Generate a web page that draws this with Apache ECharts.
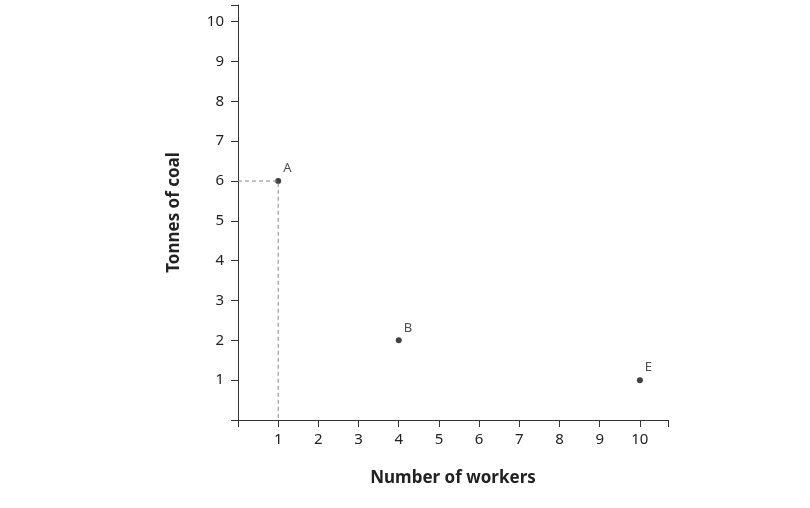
<!DOCTYPE html>
<html><head><meta charset="utf-8">
<script src="https://cdn.jsdelivr.net/npm/echarts@6/dist/echarts.min.js"></script>
<style>html,body{margin:0;background:#fff}#c{width:810px;height:508px}</style>
</head><body><div id="c"></div>
<script>
const labels = ['A','B','E'];
const xValues = [1,4,10];
const yValues = [6,2,1];
const guideX = [0,1,1];
const guideY = [6,6,0];
const chart = echarts.init(document.getElementById('c'));
const axisCommon = {
  min:0, interval:1, splitLine:{show:false},
  axisLine:{lineStyle:{color:'#333',width:1}},
  axisTick:{lineStyle:{color:'#333'},length:7},
  axisLabel:{color:'#222',fontSize:15,fontFamily:'Noto Sans',
    formatter:v=>(v>0&&Number.isInteger(v))?String(v):''},
  nameTextStyle:{color:'#222',fontSize:17,fontWeight:'bold',fontFamily:'Noto Sans'},
  nameLocation:'middle'
};
chart.setOption({
  animation:false,
  grid:{left:238,right:142,top:5,bottom:88},
  xAxis:Object.assign({},axisCommon,{type:'value',max:10.7,name:'Number of workers',nameGap:50,axisLabel:Object.assign({},axisCommon.axisLabel,{margin:12})}),
  yAxis:Object.assign({},axisCommon,{type:'value',max:10.42,name:'Tonnes of coal',nameGap:55,axisLabel:Object.assign({},axisCommon.axisLabel,{margin:14})}),
  series:[
    {type:'line',data:guideX.map((x,i)=>[x,guideY[i]]),symbol:'none',
     lineStyle:{color:'#888',width:1,type:[4,3]},silent:true},
    {type:'scatter',data:xValues.map((x,i)=>[x,yValues[i],labels[i]]),symbolSize:6,
     itemStyle:{color:'#111'},
     label:{show:true,formatter:p=>p.data[2],position:[8,-16],color:'#222',fontSize:13,fontFamily:'Noto Sans'}}
  ]
});
</script></body></html>
